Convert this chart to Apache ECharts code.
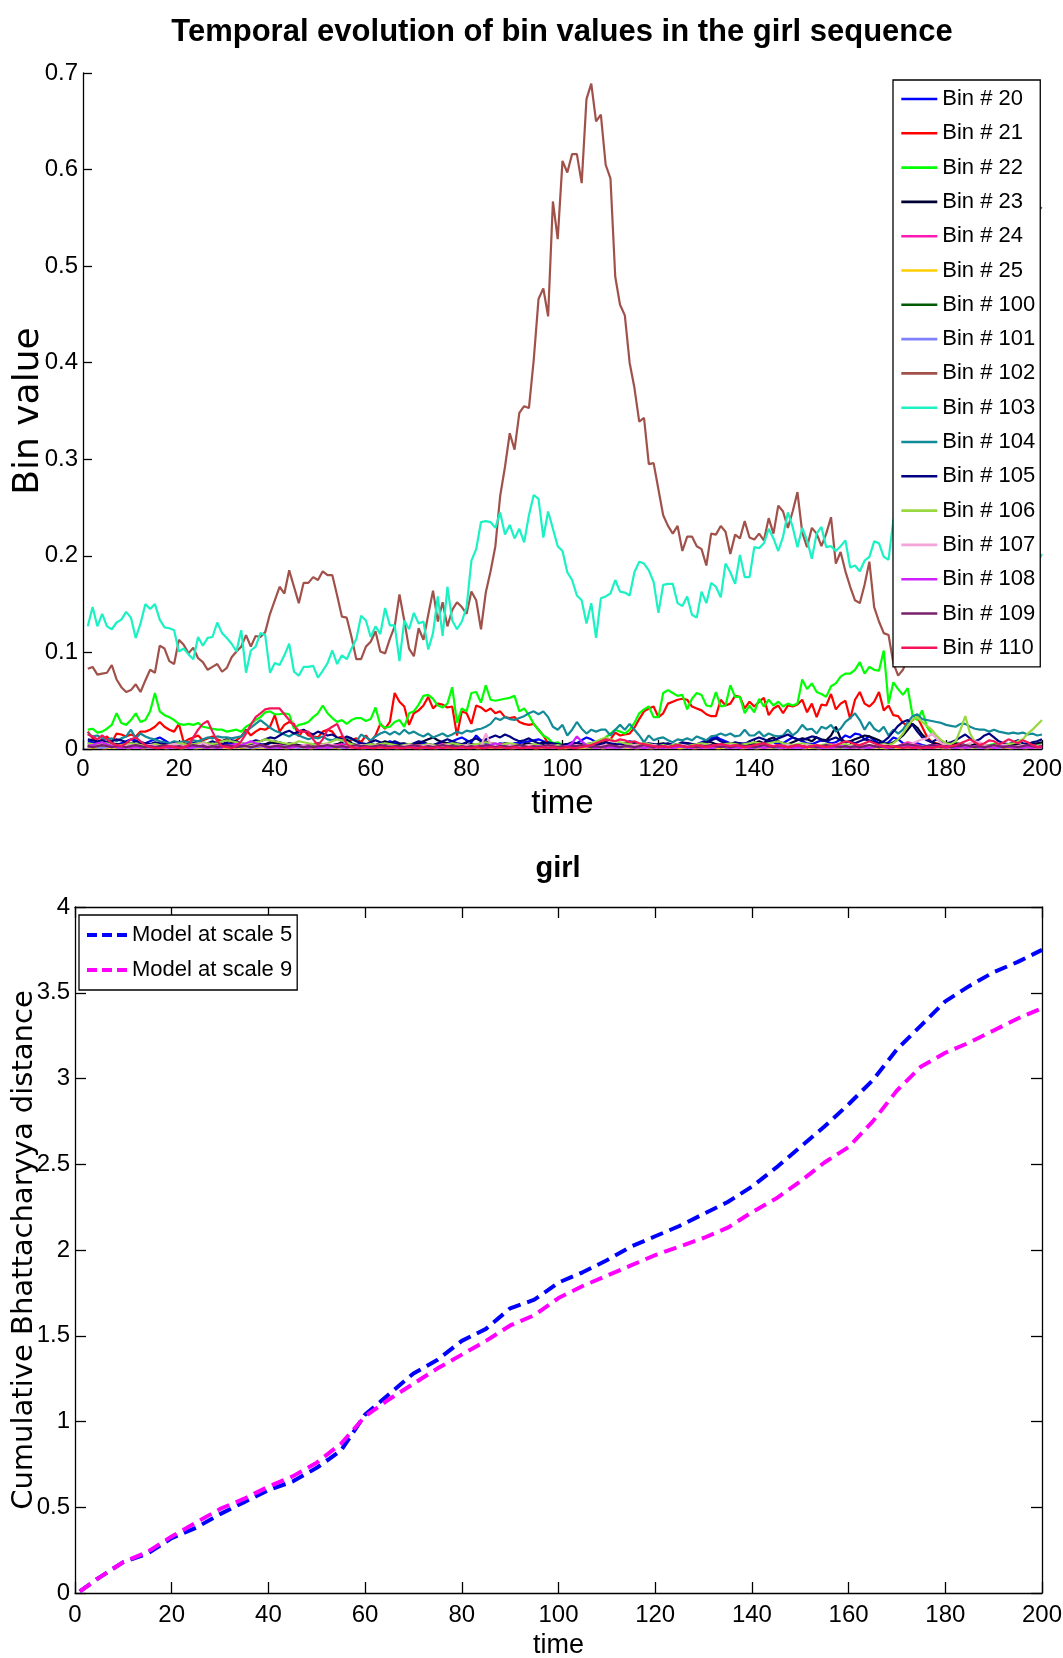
<!DOCTYPE html>
<html><head><meta charset="utf-8">
<script src="https://cdn.jsdelivr.net/npm/echarts@6/dist/echarts.min.js"></script>
<style>html,body{margin:0;padding:0;background:#fff}#c{width:1063px;height:1658px}</style>
</head><body><div id="c"></div>
<script>
// ---------- top chart data: time 1..200 ----------
const time = Array.from({length: 200}, (_, i) => i + 1);

const bin20 = [.008,.007,.006,.005,.006,.005,.004,.006,.008,.010,.009,.007,.006,.008,.010,.012,.009,.006,.005,.004,
.005,.004,.006,.008,.007,.005,.004,.003,.004,.005,.006,.004,.003,.004,.005,.006,.005,.004,.006,.008,
.007,.005,.004,.003,.004,.003,.002,.003,.004,.005,.004,.003,.004,.005,.004,.003,.004,.006,.005,.004,
.003,.004,.006,.008,.006,.005,.004,.003,.004,.005,.006,.004,.003,.005,.007,.006,.008,.010,.012,.009,
.007,.014,.009,.006,.005,.004,.006,.005,.004,.006,.006,.007,.008,.009,.010,.008,.007,.006,.005,.004,
.005,.004,.006,.009,.012,.010,.007,.005,.004,.003,.004,.005,.006,.004,.003,.004,.006,.005,.004,.003,
.004,.005,.004,.003,.005,.006,.004,.005,.007,.009,.011,.013,.010,.008,.006,.005,.004,.006,.005,.004,
.005,.006,.008,.007,.005,.006,.009,.012,.010,.008,.006,.005,.007,.009,.008,.006,.007,.010,.014,.012,
.016,.015,.010,.013,.009,.006,.005,.007,.012,.010,.006,.004,.005,.006,.004,.003,.004,.005,.003,.004,
.003,.004,.005,.003,.002,.003,.004,.003,.002,.003,.004,.003,.002,.003,.004,.003,.002,.003,.004,.005];

const bin21 = [.018,.011,.007,.010,.013,.007,.016,.015,.013,.015,.013,.018,.018,.020,.023,.028,.023,.020,.018,.026,
.007,.010,.012,.014,.009,.011,.013,.010,.008,.010,.007,.009,.013,.020,.014,.018,.021,.020,.023,.035,
.018,.025,.028,.026,.013,.020,.014,.013,.012,.018,.020,.018,.011,.013,.007,.009,.011,.007,.014,.007,
.014,.026,.021,.028,.058,.049,.044,.025,.037,.040,.045,.054,.042,.047,.046,.043,.044,.014,.039,.037,
.026,.045,.043,.039,.042,.037,.039,.033,.032,.033,.028,.026,.025,.026,.020,.014,.006,.002,.001,.002,
.003,.002,.003,.004,.003,.005,.004,.006,.008,.010,.017,.014,.015,.016,.022,.031,.039,.042,.044,.033,
.037,.047,.049,.051,.052,.051,.044,.042,.040,.036,.034,.034,.051,.045,.047,.055,.054,.042,.049,.044,
.049,.053,.035,.042,.045,.037,.045,.044,.046,.051,.038,.047,.033,.046,.045,.057,.041,.047,.050,.031,
.051,.059,.047,.044,.049,.059,.040,.045,.035,.034,.027,.024,.030,.033,.023,.013,.007,.006,.004,.003,
.002,.003,.002,.002,.003,.002,.001,.002,.003,.002,.002,.001,.002,.003,.002,.002,.001,.002,.002,.003];

const bin22 = [.020,.021,.017,.018,.021,.025,.037,.027,.025,.030,.037,.028,.030,.039,.058,.039,.035,.033,.030,.026,
.025,.026,.025,.027,.023,.022,.021,.020,.020,.018,.019,.020,.018,.023,.026,.030,.033,.038,.039,.036,
.036,.037,.036,.021,.025,.026,.028,.033,.037,.045,.037,.032,.028,.030,.026,.030,.032,.032,.029,.031,
.043,.025,.022,.023,.028,.030,.023,.037,.039,.046,.055,.056,.052,.045,.043,.047,.064,.027,.042,.039,
.058,.059,.048,.066,.051,.050,.051,.052,.053,.055,.039,.042,.035,.026,.020,.014,.011,.006,.007,.004,
.004,.003,.004,.005,.004,.005,.006,.008,.012,.016,.020,.018,.016,.020,.027,.037,.041,.044,.033,.033,
.058,.061,.058,.055,.056,.041,.052,.058,.056,.045,.044,.059,.044,.045,.066,.054,.054,.037,.045,.038,
.052,.044,.051,.045,.049,.044,.047,.045,.047,.072,.062,.068,.059,.057,.054,.065,.068,.075,.078,.078,
.082,.090,.078,.085,.082,.081,.102,.047,.069,.062,.056,.063,.035,.030,.040,.023,.016,.013,.006,.005,
.004,.006,.005,.004,.003,.005,.004,.003,.004,.005,.004,.003,.004,.003,.005,.004,.003,.004,.005,.006];

const bin23 = [.006,.005,.006,.004,.005,.006,.005,.004,.006,.005,.004,.005,.006,.004,.003,.004,.005,.004,.003,.004,
.005,.004,.003,.004,.006,.005,.004,.006,.008,.010,.007,.005,.004,.003,.005,.006,.004,.005,.007,.006,
.005,.004,.006,.005,.004,.003,.004,.005,.006,.004,.003,.004,.005,.007,.010,.006,.004,.003,.004,.005,
.004,.006,.008,.006,.004,.005,.006,.004,.005,.006,.008,.010,.012,.009,.007,.006,.004,.005,.003,.004,
.005,.004,.006,.008,.006,.005,.004,.006,.005,.004,.003,.005,.006,.004,.005,.007,.005,.004,.003,.004,
.005,.004,.006,.005,.004,.003,.005,.006,.004,.005,.004,.003,.005,.004,.006,.005,.004,.003,.004,.005,
.006,.004,.003,.005,.004,.006,.005,.004,.006,.008,.007,.005,.004,.006,.005,.004,.006,.005,.004,.006,
.008,.006,.010,.012,.008,.006,.005,.007,.009,.011,.010,.008,.012,.010,.009,.014,.023,.011,.007,.008,
.010,.012,.014,.013,.011,.009,.006,.005,.007,.010,.014,.020,.026,.022,.015,.010,.007,.005,.004,.005,
.004,.006,.005,.004,.003,.005,.006,.004,.003,.004,.005,.004,.003,.005,.004,.003,.004,.005,.006,.007];

const bin24 = [.004,.003,.004,.005,.003,.002,.003,.004,.003,.002,.003,.004,.003,.002,.003,.002,.003,.004,.003,.002,
.002,.003,.002,.003,.004,.003,.002,.003,.002,.003,.004,.005,.004,.003,.002,.003,.004,.003,.002,.003,
.004,.003,.002,.003,.002,.003,.004,.003,.002,.003,.002,.003,.004,.005,.003,.002,.003,.002,.003,.004,
.003,.002,.003,.004,.003,.002,.003,.002,.003,.004,.003,.002,.003,.004,.005,.004,.003,.002,.003,.002,
.003,.004,.003,.002,.003,.004,.005,.004,.003,.002,.003,.002,.003,.004,.003,.002,.003,.004,.003,.002,
.002,.003,.004,.003,.002,.003,.002,.003,.004,.003,.002,.003,.004,.003,.002,.003,.002,.003,.004,.003,
.002,.003,.002,.003,.004,.003,.002,.003,.004,.005,.004,.003,.002,.003,.002,.003,.004,.003,.002,.003,
.004,.003,.002,.003,.004,.003,.002,.003,.002,.003,.004,.003,.002,.003,.004,.005,.004,.003,.002,.003,
.002,.003,.004,.003,.002,.003,.004,.003,.002,.003,.005,.007,.006,.004,.003,.002,.003,.004,.003,.002,
.003,.002,.003,.004,.003,.002,.003,.004,.003,.002,.003,.004,.003,.002,.003,.002,.003,.004,.003,.002];

const bin25 = [.002,.001,.002,.001,.001,.002,.001,.002,.001,.001,.002,.001,.001,.002,.001,.002,.001,.001,.002,.001,
.001,.002,.001,.001,.002,.001,.002,.001,.002,.001,.001,.002,.001,.002,.001,.001,.002,.001,.002,.001,
.002,.001,.001,.002,.001,.002,.001,.001,.002,.001,.002,.002,.001,.001,.002,.001,.002,.001,.001,.002,
.001,.002,.001,.002,.001,.001,.002,.001,.002,.001,.001,.002,.001,.001,.002,.001,.002,.001,.002,.001,
.002,.001,.001,.002,.001,.002,.001,.002,.001,.001,.002,.001,.002,.001,.001,.002,.001,.002,.001,.001,
.001,.002,.001,.001,.002,.001,.002,.001,.001,.002,.001,.002,.001,.002,.001,.001,.002,.001,.001,.002,
.002,.001,.002,.001,.001,.002,.001,.001,.002,.001,.002,.001,.001,.002,.001,.002,.001,.001,.002,.001,
.001,.002,.001,.002,.001,.001,.002,.001,.002,.001,.001,.002,.001,.001,.002,.001,.002,.001,.002,.001,
.002,.001,.001,.002,.001,.002,.001,.001,.002,.001,.002,.001,.002,.001,.001,.002,.001,.002,.001,.001,
.001,.002,.001,.001,.002,.001,.002,.001,.001,.002,.001,.002,.001,.001,.002,.001,.001,.002,.001,.002];

const bin100 = [.003,.002,.002,.003,.002,.003,.002,.002,.003,.002,.003,.002,.002,.003,.002,.002,.003,.002,.003,.002,
.002,.003,.002,.003,.002,.002,.003,.002,.002,.003,.002,.003,.002,.002,.003,.002,.003,.002,.002,.003,
.003,.002,.002,.003,.002,.003,.002,.003,.002,.002,.003,.002,.002,.003,.002,.003,.002,.002,.003,.002,
.002,.003,.002,.002,.003,.002,.003,.002,.002,.003,.002,.002,.003,.002,.003,.002,.002,.003,.002,.003,
.002,.002,.003,.002,.003,.002,.002,.003,.002,.003,.002,.003,.002,.002,.003,.002,.002,.003,.002,.002,
.003,.002,.002,.003,.002,.002,.003,.002,.003,.002,.002,.003,.002,.003,.002,.002,.003,.002,.002,.003,
.002,.003,.002,.002,.003,.002,.002,.003,.002,.003,.002,.002,.003,.002,.002,.003,.002,.003,.002,.002,
.003,.002,.003,.002,.002,.003,.002,.002,.003,.002,.003,.002,.002,.003,.002,.003,.002,.002,.003,.002,
.002,.003,.002,.002,.003,.002,.003,.002,.002,.003,.004,.003,.002,.002,.003,.002,.002,.003,.002,.003,
.002,.002,.003,.002,.003,.002,.002,.003,.002,.002,.003,.002,.003,.002,.002,.003,.002,.002,.003,.002];

const bin101 = [.002,.003,.002,.001,.002,.003,.002,.002,.001,.002,.003,.002,.002,.001,.002,.003,.002,.001,.002,.002,
.003,.002,.001,.002,.002,.003,.002,.001,.002,.003,.002,.002,.003,.002,.001,.002,.003,.002,.002,.001,
.002,.003,.002,.002,.001,.002,.003,.002,.001,.002,.002,.003,.002,.001,.002,.003,.002,.002,.001,.002,
.003,.002,.001,.002,.002,.003,.002,.002,.001,.002,.003,.002,.002,.001,.002,.003,.002,.001,.002,.002,
.003,.002,.002,.001,.002,.003,.002,.001,.002,.002,.003,.002,.001,.002,.003,.002,.002,.001,.002,.003,
.002,.001,.002,.002,.003,.002,.001,.002,.003,.002,.002,.001,.002,.003,.002,.002,.001,.002,.003,.002,
.001,.002,.002,.003,.002,.001,.002,.003,.002,.002,.001,.002,.003,.002,.001,.002,.002,.003,.002,.001,
.002,.003,.002,.002,.001,.002,.003,.002,.001,.002,.002,.003,.002,.001,.002,.003,.002,.002,.001,.002,
.003,.002,.001,.002,.002,.003,.002,.001,.002,.003,.002,.002,.001,.002,.003,.002,.001,.002,.002,.003,
.002,.001,.002,.003,.002,.002,.001,.002,.003,.002,.001,.002,.002,.003,.002,.001,.002,.003,.002,.002];

const bin102 = [.083,.085,.077,.078,.079,.087,.072,.064,.059,.061,.067,.059,.071,.082,.079,.107,.104,.091,.088,.113,
.108,.099,.105,.094,.090,.082,.085,.088,.080,.084,.095,.101,.106,.118,.106,.117,.116,.121,.140,.154,
.168,.161,.185,.168,.151,.172,.172,.178,.175,.184,.180,.180,.159,.137,.136,.116,.093,.093,.106,.111,
.122,.101,.099,.114,.127,.160,.133,.104,.096,.125,.113,.139,.164,.132,.152,.127,.144,.152,.147,.140,
.163,.154,.124,.162,.184,.210,.262,.292,.327,.310,.348,.355,.353,.403,.466,.477,.448,.567,.528,.609,
.597,.616,.616,.586,.673,.689,.650,.657,.605,.591,.489,.460,.449,.400,.374,.339,.343,.295,.296,.269,
.242,.231,.223,.231,.205,.220,.220,.210,.207,.190,.223,.222,.231,.225,.202,.222,.218,.236,.219,.217,
.223,.216,.239,.223,.252,.246,.229,.246,.266,.224,.209,.229,.223,.210,.223,.240,.192,.204,.184,.168,
.154,.151,.170,.194,.147,.132,.120,.118,.089,.076,.082,.095,.110,.130,.150,.175,.200,.230,.260,.290,
.315,.340,.360,.385,.400,.420,.440,.455,.470,.480,.495,.505,.515,.525,.535,.540,.550,.555,.562,.560];

const bin103 = [.127,.147,.127,.140,.127,.124,.131,.134,.142,.136,.115,.130,.150,.145,.150,.134,.126,.125,.123,.101,
.104,.098,.093,.116,.107,.115,.116,.131,.120,.115,.109,.101,.123,.079,.102,.106,.120,.118,.079,.089,
.087,.097,.109,.080,.076,.085,.085,.086,.074,.081,.089,.102,.088,.097,.093,.104,.114,.138,.133,.116,
.127,.119,.146,.128,.128,.091,.133,.124,.141,.130,.132,.103,.120,.158,.117,.168,.133,.124,.132,.147,
.195,.207,.235,.236,.235,.229,.245,.222,.232,.218,.228,.214,.242,.263,.259,.219,.246,.228,.210,.205,
.183,.175,.159,.154,.130,.151,.115,.156,.158,.161,.175,.163,.162,.159,.183,.194,.192,.185,.173,.141,
.170,.171,.171,.151,.148,.158,.139,.136,.163,.151,.172,.168,.157,.192,.183,.171,.201,.178,.178,.209,
.208,.213,.228,.218,.205,.220,.245,.230,.209,.229,.216,.197,.223,.230,.209,.210,.205,.210,.216,.188,
.190,.184,.195,.199,.215,.213,.199,.196,.237,.250,.255,.250,.245,.240,.235,.230,.228,.225,.222,.220,
.218,.215,.212,.210,.208,.205,.203,.200,.198,.196,.195,.194,.193,.192,.192,.191,.191,.190,.192,.202];

const bin104 = [.016,.013,.014,.011,.010,.011,.008,.011,.013,.020,.011,.016,.013,.011,.010,.008,.007,.006,.008,.007,
.008,.007,.009,.008,.010,.012,.011,.013,.012,.012,.011,.012,.013,.018,.022,.026,.030,.026,.022,.019,
.017,.015,.013,.016,.014,.012,.010,.012,.011,.013,.010,.009,.011,.008,.012,.010,.008,.015,.012,.009,
.013,.016,.018,.015,.018,.015,.020,.016,.018,.015,.013,.016,.012,.014,.016,.013,.015,.018,.016,.019,
.018,.020,.021,.023,.026,.032,.030,.033,.031,.030,.032,.034,.037,.039,.036,.039,.033,.023,.020,.025,
.014,.020,.028,.021,.016,.020,.018,.020,.020,.014,.020,.025,.020,.026,.020,.014,.007,.014,.009,.011,
.012,.009,.007,.010,.009,.011,.009,.013,.011,.009,.013,.014,.016,.014,.016,.013,.014,.020,.014,.014,
.018,.013,.016,.014,.013,.014,.020,.014,.018,.025,.020,.021,.016,.023,.021,.025,.018,.021,.028,.032,
.037,.030,.020,.028,.021,.018,.023,.014,.020,.016,.020,.028,.034,.036,.031,.030,.029,.028,.027,.025,
.024,.023,.026,.026,.023,.021,.020,.020,.018,.020,.018,.017,.016,.017,.016,.017,.015,.016,.014,.015];

const bin105 = [.010,.009,.008,.009,.007,.008,.010,.009,.007,.006,.008,.007,.006,.005,.007,.006,.005,.004,.006,.005,
.004,.005,.006,.005,.004,.006,.008,.006,.005,.007,.009,.008,.006,.005,.007,.009,.008,.010,.012,.011,
.014,.017,.019,.016,.018,.020,.017,.015,.018,.016,.014,.015,.012,.010,.013,.011,.008,.006,.005,.007,
.009,.007,.005,.006,.008,.006,.005,.004,.006,.008,.007,.005,.004,.006,.008,.010,.008,.006,.005,.007,
.009,.011,.008,.010,.012,.014,.012,.015,.013,.010,.008,.009,.011,.008,.006,.005,.007,.006,.005,.004,
.005,.007,.006,.004,.005,.006,.004,.005,.007,.006,.005,.004,.006,.008,.007,.005,.004,.006,.005,.004,
.005,.006,.004,.005,.007,.006,.005,.004,.006,.007,.009,.011,.008,.006,.005,.007,.006,.005,.008,.010,
.012,.010,.008,.009,.011,.013,.015,.012,.010,.009,.011,.013,.012,.009,.008,.010,.012,.009,.007,.008,
.006,.008,.010,.009,.007,.006,.008,.012,.018,.024,.028,.030,.025,.018,.012,.009,.007,.010,.008,.006,
.007,.009,.012,.015,.011,.008,.010,.014,.016,.012,.008,.006,.005,.007,.009,.006,.005,.007,.008,.010];

const bin106 = [.006,.005,.004,.005,.006,.004,.003,.004,.005,.006,.005,.004,.003,.004,.005,.004,.003,.004,.005,.006,
.005,.004,.005,.006,.007,.006,.005,.006,.008,.009,.008,.007,.006,.005,.006,.007,.008,.010,.009,.008,
.007,.006,.005,.006,.008,.007,.006,.005,.004,.005,.006,.008,.010,.009,.007,.005,.004,.003,.004,.005,
.004,.005,.006,.005,.004,.003,.004,.005,.004,.003,.004,.005,.004,.003,.004,.005,.006,.005,.004,.003,
.004,.005,.006,.007,.006,.005,.004,.005,.006,.005,.004,.003,.004,.005,.004,.003,.002,.003,.004,.003,
.003,.002,.003,.004,.005,.006,.008,.010,.012,.010,.008,.007,.006,.005,.004,.005,.006,.005,.004,.003,
.004,.003,.004,.005,.004,.003,.004,.005,.006,.005,.004,.003,.004,.005,.006,.005,.004,.005,.006,.007,
.006,.005,.006,.007,.008,.006,.005,.004,.005,.006,.005,.004,.003,.004,.005,.004,.003,.004,.005,.004,
.003,.004,.005,.004,.003,.004,.005,.004,.006,.010,.016,.024,.030,.033,.028,.024,.020,.014,.009,.006,
.005,.008,.020,.034,.016,.007,.005,.004,.003,.004,.005,.004,.005,.006,.008,.010,.016,.020,.025,.030];

const bin107 = [.003,.002,.003,.004,.003,.002,.003,.002,.003,.004,.003,.002,.003,.004,.003,.002,.003,.004,.005,.004,
.003,.002,.003,.004,.006,.004,.003,.002,.003,.002,.003,.004,.003,.002,.003,.004,.003,.002,.003,.004,
.003,.002,.003,.002,.003,.004,.003,.002,.003,.004,.005,.004,.003,.002,.003,.002,.003,.004,.003,.002,
.003,.004,.003,.002,.003,.002,.003,.004,.003,.002,.003,.004,.003,.002,.003,.004,.003,.002,.003,.004,
.003,.002,.003,.016,.005,.003,.002,.003,.004,.003,.002,.003,.004,.003,.002,.003,.004,.003,.002,.003,
.002,.003,.004,.003,.002,.003,.002,.003,.004,.003,.002,.003,.002,.003,.004,.003,.002,.003,.004,.003,
.002,.003,.002,.003,.004,.003,.002,.003,.002,.003,.004,.003,.002,.003,.004,.003,.002,.003,.002,.003,
.004,.003,.002,.003,.002,.003,.004,.003,.002,.003,.004,.003,.002,.003,.002,.003,.004,.003,.002,.003,
.002,.003,.004,.003,.002,.003,.004,.003,.002,.003,.004,.005,.006,.008,.010,.011,.016,.011,.006,.004,
.003,.002,.003,.004,.006,.008,.007,.004,.003,.002,.003,.004,.003,.002,.003,.004,.003,.002,.003,.004];

const bin108 = [.003,.004,.006,.007,.005,.003,.002,.001,.002,.001,.002,.001,.002,.003,.002,.001,.002,.001,.002,.001,
.002,.001,.002,.003,.002,.001,.002,.001,.002,.003,.004,.005,.004,.006,.008,.006,.004,.002,.001,.002,
.001,.002,.001,.002,.003,.002,.001,.002,.001,.002,.001,.002,.003,.002,.001,.002,.001,.002,.001,.002,
.003,.002,.001,.002,.001,.002,.001,.002,.003,.002,.001,.002,.001,.002,.001,.002,.003,.002,.001,.002,
.001,.002,.003,.002,.004,.006,.004,.002,.001,.002,.001,.002,.001,.002,.003,.002,.001,.002,.001,.002,
.003,.006,.013,.008,.004,.002,.001,.002,.001,.002,.001,.002,.003,.002,.001,.002,.001,.002,.001,.002,
.001,.002,.001,.002,.003,.002,.001,.002,.001,.002,.001,.002,.003,.002,.001,.002,.001,.002,.001,.002,
.002,.001,.002,.003,.002,.001,.002,.001,.002,.001,.002,.003,.002,.001,.002,.001,.002,.003,.002,.001,
.002,.001,.002,.001,.002,.003,.002,.001,.002,.003,.004,.003,.002,.001,.002,.001,.002,.003,.002,.001,
.002,.001,.002,.001,.002,.003,.002,.001,.002,.001,.002,.003,.002,.001,.002,.001,.002,.001,.002,.001];

const bin109 = [.003,.002,.003,.004,.003,.002,.003,.003,.002,.003,.004,.003,.002,.003,.002,.003,.004,.003,.002,.003,
.002,.003,.004,.003,.003,.002,.003,.002,.003,.004,.003,.002,.003,.003,.002,.003,.004,.003,.002,.003,
.003,.002,.003,.004,.003,.002,.003,.002,.003,.003,.004,.003,.002,.003,.002,.003,.004,.003,.003,.002,
.003,.004,.003,.002,.003,.003,.002,.003,.004,.003,.002,.003,.002,.003,.004,.003,.003,.002,.003,.002,
.003,.002,.003,.004,.003,.002,.003,.003,.002,.003,.004,.003,.002,.003,.002,.003,.004,.003,.002,.003,
.002,.003,.003,.004,.003,.002,.003,.002,.003,.004,.003,.002,.003,.003,.002,.003,.004,.003,.002,.003,
.003,.002,.003,.004,.003,.002,.003,.002,.003,.003,.004,.003,.002,.003,.002,.003,.004,.003,.003,.002,
.003,.004,.003,.002,.003,.003,.002,.003,.004,.003,.002,.003,.002,.003,.004,.003,.003,.002,.003,.002,
.003,.002,.003,.004,.003,.002,.003,.003,.002,.003,.004,.005,.004,.003,.002,.003,.004,.003,.002,.003,
.002,.003,.003,.004,.003,.002,.003,.002,.003,.004,.003,.002,.003,.003,.002,.003,.004,.003,.002,.003];

const bin110 = [.015,.013,.010,.014,.010,.006,.004,.003,.006,.010,.012,.008,.004,.002,.001,.001,.002,.003,.002,.001,
.002,.004,.012,.020,.026,.029,.018,.008,.003,.002,.001,.003,.008,.016,.025,.033,.037,.041,.042,.042,
.042,.036,.030,.024,.019,.018,.018,.010,.004,.010,.020,.023,.026,.015,.005,.002,.001,.001,.002,.001,
.001,.002,.001,.001,.002,.001,.001,.002,.001,.001,.002,.001,.001,.002,.001,.002,.001,.001,.002,.001,
.001,.002,.001,.001,.002,.001,.002,.001,.001,.002,.001,.001,.002,.001,.001,.002,.001,.002,.001,.001,
.002,.001,.001,.002,.003,.004,.006,.008,.010,.009,.008,.010,.009,.007,.008,.006,.005,.004,.003,.002,
.003,.002,.003,.004,.003,.002,.003,.004,.003,.002,.003,.004,.005,.004,.003,.004,.003,.002,.003,.004,
.005,.006,.004,.003,.004,.003,.002,.003,.004,.003,.002,.003,.004,.003,.002,.003,.004,.006,.008,.007,
.005,.004,.006,.008,.006,.004,.003,.002,.003,.002,.001,.002,.001,.002,.001,.002,.001,.002,.003,.002,
.003,.004,.006,.008,.010,.007,.004,.006,.009,.008,.005,.007,.010,.008,.006,.009,.007,.004,.002,.003];

const binNames = ['Bin # 20','Bin # 21','Bin # 22','Bin # 23','Bin # 24','Bin # 25','Bin # 100','Bin # 101','Bin # 102',
  'Bin # 103','Bin # 104','Bin # 105','Bin # 106','Bin # 107','Bin # 108','Bin # 109','Bin # 110'];
const binColors = ['#0000ff','#ff0000','#00ff00','#000033','#ff1ab3','#ffcc00','#005a00','#8080ff','#a0524a',
  '#1af2c4','#138a98','#000080','#99d840','#f4a4d8','#d020ff','#7a1f6a','#f5145a'];
const binValues = [bin20,bin21,bin22,bin23,bin24,bin25,bin100,bin101,bin102,bin103,bin104,bin105,bin106,bin107,bin108,bin109,bin110];

// ---------- bottom chart data ----------
const cumTime = [1,5,10,15,20,25,30,35,40,45,50,55,60,65,70,75,80,85,90,95,100,105,110,115,120,125,130,135,140,145,150,155,160,165,170,175,180,185,190,195,200];
const model5 = [.01,.09,.18,.23,.32,.38,.46,.53,.60,.65,.73,.83,1.04,1.16,1.28,1.36,1.47,1.54,1.66,1.71,1.81,1.87,1.94,2.02,2.08,2.14,2.21,2.28,2.37,2.48,2.60,2.72,2.85,2.99,3.17,3.31,3.45,3.54,3.62,3.68,3.75];
const model9 = [.01,.09,.18,.24,.33,.41,.49,.55,.62,.68,.76,.87,1.03,1.13,1.22,1.31,1.39,1.47,1.56,1.62,1.72,1.79,1.85,1.91,1.97,2.02,2.07,2.13,2.22,2.30,2.40,2.51,2.60,2.75,2.93,3.07,3.15,3.21,3.28,3.35,3.41];

const HELV = "'Liberation Sans','Arimo',Arial,sans-serif";
const WIDE = "'DejaVu Sans',sans-serif";
const AX = {color:'#000', width:1.3};

const chart = echarts.init(document.getElementById('c'), null, {renderer:'canvas', width:1063, height:1658});

const topSeries = binNames.map((n, k) => ({
  name: n, type: 'line', xAxisIndex: 0, yAxisIndex: 0,
  symbol: 'none', showSymbol: false, animation: false,
  data: time.map((t, i) => [t, binValues[k][i]]),
  lineStyle: {color: binColors[k], width: 2.2},
  itemStyle: {color: binColors[k]}
}));

const botSeries = [
  {name:'Model at scale 5', color:'#0000ff', vals: model5},
  {name:'Model at scale 9', color:'#ff00ff', vals: model9}
].map(s => ({
  name: s.name, type: 'line', xAxisIndex: 1, yAxisIndex: 1,
  symbol: 'none', showSymbol: false, animation: false,
  data: cumTime.map((t, i) => [t, s.vals[i]]),
  lineStyle: {color: s.color, width: 4, type: [13, 7]},
  itemStyle: {color: s.color}
}));

function labelStyle(size, margin) {
  return {color:'#000', fontSize:size, fontFamily:HELV, margin:margin};
}

const option = {
  animation: false,
  backgroundColor: '#fff',
  textStyle: {fontFamily: HELV},
  title: [
    {text:'Temporal evolution of bin values in the girl sequence', left:562, top:17, textAlign:'center', padding:0,
     textStyle:{fontFamily:HELV, fontWeight:'bold', fontSize:31, color:'#000'}},
    {text:'girl', left:558, top:854, textAlign:'center', padding:0,
     textStyle:{fontFamily:HELV, fontWeight:'bold', fontSize:29, color:'#000'}}
  ],
  grid: [
    {left:83, top:73, width:959, height:676, containLabel:false, outerBoundsMode:'none'},
    {left:75, top:907, width:967, height:686, containLabel:false, outerBoundsMode:'none'}
  ],
  legend: [
    {data: binNames, orient:'vertical', left:893, top:80, padding:[4,5,4,7], itemGap:4.3,
     itemWidth:36, itemHeight:14, backgroundColor:'#fff', borderColor:'#000', borderWidth:1.3, borderRadius:0,
     itemStyle:{opacity:0}, lineStyle:{width:2.6},
     textStyle:{fontSize:22, lineHeight:30, color:'#000', fontFamily:HELV}, selectedMode:false, z:10},
    {data: ['Model at scale 5','Model at scale 9'], orient:'vertical', left:79, top:915, padding:[5,5,5,6], itemGap:5,
     itemWidth:40, itemHeight:14, backgroundColor:'#fff', borderColor:'#000', borderWidth:1.3, borderRadius:0,
     itemStyle:{opacity:0}, lineStyle:{width:4, type:[10,5]},
     textStyle:{fontSize:22, lineHeight:30, color:'#000', fontFamily:HELV}, selectedMode:false, z:10}
  ],
  xAxis: [
    {gridIndex:0, type:'value', min:0, max:200, interval:20,
     axisLine:{show:true, onZero:false, lineStyle:AX}, axisTick:{show:true, inside:true, length:9, lineStyle:AX},
     axisLabel:labelStyle(24, 8), splitLine:{show:false},
     name:'time', nameLocation:'middle', nameGap:38, nameTextStyle:{fontSize:33, fontFamily:HELV, color:'#000'}},
    {gridIndex:1, type:'value', min:0, max:200, interval:20,
     axisLine:{show:true, onZero:false, lineStyle:AX}, axisTick:{show:true, inside:true, length:11, lineStyle:AX},
     axisLabel:labelStyle(24, 10), splitLine:{show:false},
     name:'time', nameLocation:'middle', nameGap:39, nameTextStyle:{fontSize:27, fontFamily:HELV, color:'#000'}},
    {gridIndex:1, type:'value', position:'top', min:0, max:200, interval:20,
     axisLine:{show:true, onZero:false, lineStyle:AX}, axisTick:{show:true, inside:true, length:11, lineStyle:AX},
     axisLabel:{show:false}, splitLine:{show:false}}
  ],
  yAxis: [
    {gridIndex:0, type:'value', min:0, max:0.7, interval:0.1,
     axisLine:{show:true, onZero:false, lineStyle:AX}, axisTick:{show:true, inside:true, length:9, lineStyle:AX},
     axisLabel:labelStyle(24, 5), splitLine:{show:false},
     name:'Bin value', nameLocation:'middle', nameGap:36, nameRotate:90, nameMoveOverlap:false,
     nameTextStyle:{fontSize:36, fontFamily:WIDE, color:'#000'}},
    {gridIndex:1, type:'value', min:0, max:4, interval:0.5,
     axisLine:{show:true, onZero:false, lineStyle:AX}, axisTick:{show:true, inside:true, length:11, lineStyle:AX},
     axisLabel:labelStyle(24, 5), splitLine:{show:false},
     name:'Cumulative Bhattacharyya distance', nameLocation:'middle', nameGap:36, nameRotate:90, nameMoveOverlap:false,
     nameTextStyle:{fontSize:29, fontFamily:WIDE, color:'#000'}},
    {gridIndex:1, type:'value', position:'right', min:0, max:4, interval:0.5,
     axisLine:{show:true, onZero:false, lineStyle:AX}, axisTick:{show:true, inside:true, length:11, lineStyle:AX},
     axisLabel:{show:false}, splitLine:{show:false}}
  ],
  series: topSeries.concat(botSeries)
};
chart.setOption(option);
</script>
</body></html>
